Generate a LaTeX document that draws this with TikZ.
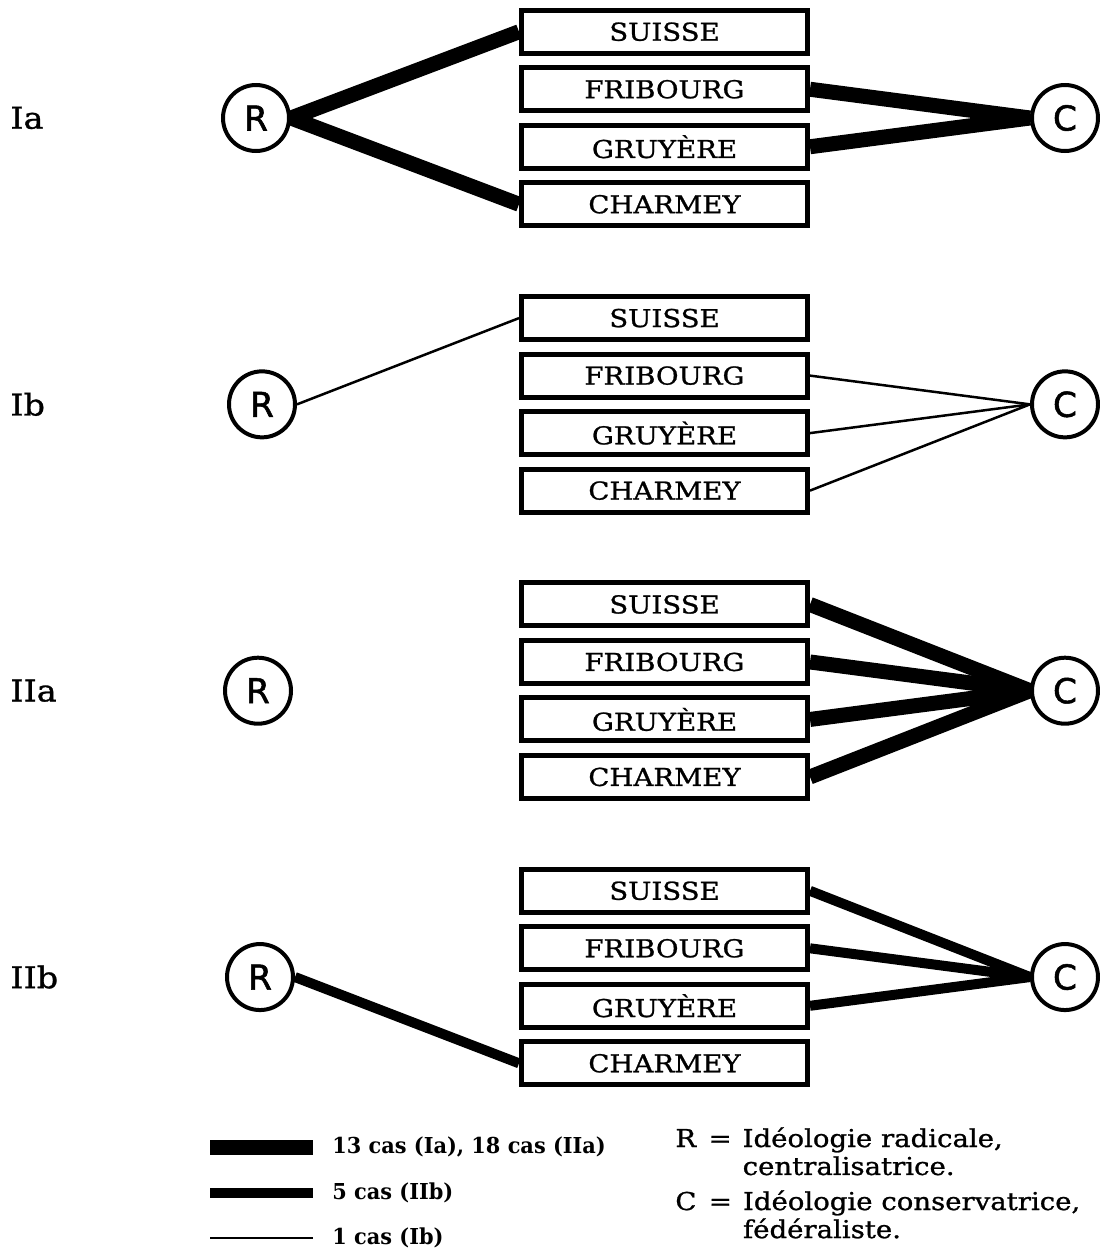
\documentclass[tikz,border=0pt]{standalone}
\usepackage{fontspec}
\newfontfamily\boxfont[FakeStretch=1.12, FakeBold=1]{DejaVu Serif}
\newfontfamily\keyfont[FakeStretch=0.95]{DejaVu Serif}
\newfontfamily\circfont[FakeBold=1.5]{DejaVu Sans}
\usetikzlibrary{positioning,backgrounds}

\begin{document}
\begin{tikzpicture}[
              node distance=1.15cm,
              region/.style={rectangle, draw, line width=0.1cm, fill=white, minimum width=5.72cm, minimum height=0.86cm, inner sep=0pt, font=\boxfont\fontsize{14}{16}\selectfont},
              ideo/.style={circle, draw, line width=0.08cm, fill=white, minimum size=1.32cm, inner sep=0pt, font=\circfont\fontsize{19.5}{20}\selectfont},
              panel/.style={anchor=west, inner sep=0pt, font=\boxfont\fontsize{17}{20}\selectfont},
              key/.style={anchor=west, inner sep=0pt, font=\keyfont\bfseries\fontsize{12.5}{15}\selectfont},
              defn/.style={anchor=base west, inner sep=0pt, font=\boxfont\fontsize{14}{15.9}\selectfont},
              heavyflow/.style={line width=0.3cm},
              midflow/.style={line width=0.2cm},
              fineflow/.style={line width=0.05cm}
            ]
              \path[use as bounding box] (0,0) rectangle (22,-25.08);

              % Panel Ia
              \node[panel] (La) at (0.2,-2.36) {Ia};
              \node[ideo] (Ra) at (5.12,-2.36) {R};
              \node[region] (Sa) at (13.29,-0.635) {SUISSE};
              \node[region, below of=Sa] (Fa) {FRIBOURG};
              \node[region, below of=Fa] (Ga) {GRUYÈRE};
              \node[region, below of=Ga] (Cha) {CHARMEY};
              \node[ideo] (Ca) at (21.3,-2.36) {C};

              % Panel Ib
              \node[panel] (Lb) at (0.2,-8.087) {Ib};
              \node[ideo] (Rb) at (5.24,-8.087) {R};
              \node[region] (Sb) at (13.29,-6.362) {SUISSE};
              \node[region, below of=Sb] (Fb) {FRIBOURG};
              \node[region, below of=Fb] (Gb) {GRUYÈRE};
              \node[region, below of=Gb] (Chb) {CHARMEY};
              \node[ideo] (Cb) at (21.3,-8.087) {C};

              % Panel IIa
              \node[panel] (LIIa) at (0.2,-13.814) {IIa};
              \node[ideo] (RIIa) at (5.16,-13.814) {R};
              \node[region] (SIIa) at (13.29,-12.089) {SUISSE};
              \node[region, below of=SIIa] (FIIa) {FRIBOURG};
              \node[region, below of=FIIa] (GIIa) {GRUYÈRE};
              \node[region, below of=GIIa] (ChIIa) {CHARMEY};
              \node[ideo] (CIIa) at (21.3,-13.814) {C};

              % Panel IIb
              \node[panel] (LIIb) at (0.2,-19.541) {IIb};
              \node[ideo] (RIIb) at (5.2,-19.541) {R};
              \node[region] (SIIb) at (13.29,-17.816) {SUISSE};
              \node[region, below of=SIIb] (FIIb) {FRIBOURG};
              \node[region, below of=FIIb] (GIIb) {GRUYÈRE};
              \node[region, below of=GIIb] (ChIIb) {CHARMEY};
              \node[ideo] (CIIb) at (21.3,-19.541) {C};

              % Draw links under the nodes
              \begin{scope}[on background layer]
                \fill[white] (0,0) rectangle (22,-25.08);
                \draw[heavyflow] (Ra.east) -- (Sa.west);
                \draw[heavyflow] (Ra.east) -- (Cha.west);
                \draw[heavyflow] (Fa.east) -- (Ca.west);
                \draw[heavyflow] (Ga.east) -- (Ca.west);

                \draw[fineflow] (Rb.east) -- (Sb.west);
                \draw[fineflow] (Fb.east) -- (Cb.west);
                \draw[fineflow] (Gb.east) -- (Cb.west);
                \draw[fineflow] (Chb.east) -- (Cb.west);

                \draw[heavyflow] (SIIa.east) -- (CIIa.west);
                \draw[heavyflow] (FIIa.east) -- (CIIa.west);
                \draw[heavyflow] (GIIa.east) -- (CIIa.west);
                \draw[heavyflow] (ChIIa.east) -- (CIIa.west);

                \draw[midflow] (RIIb.east) -- (ChIIb.west);
                \draw[midflow] (SIIb.east) -- (CIIb.west);
                \draw[midflow] (FIIb.east) -- (CIIb.west);
                \draw[midflow] (GIIb.east) -- (CIIb.west);
              \end{scope}

              % Legend of line widths
              \coordinate (K1a) at (4.2,-22.94);
              \coordinate (K1b) at (6.26,-22.94);
              \coordinate (K2a) at (4.2,-23.86);
              \coordinate (K2b) at (6.26,-23.86);
              \coordinate (K3a) at (4.2,-24.76);
              \coordinate (K3b) at (6.26,-24.76);
              \draw[heavyflow] (K1a) -- (K1b);
              \draw[midflow] (K2a) -- (K2b);
              \draw[fineflow] (K3a) -- (K3b);
              \node[key, right=0.38cm of K1b] (K1) {13 cas (Ia), 18 cas (IIa)};
              \node[key, right=0.38cm of K2b] (K2) {5 cas (IIb)};
              \node[key, right=0.38cm of K3b] (K3) {1 cas (Ib)};

              % Legend of the letters
              \node[defn] (DefR) at (13.5,-22.94) {\begin{tabular}[t]{@{}l@{\hspace{0.25cm}}l@{\hspace{0.22cm}}l@{}}R & = & Idéologie radicale,\\ & & centralisatrice.\end{tabular}};
              \node[defn] (DefC) at (13.5,-24.2) {\begin{tabular}[t]{@{}l@{\hspace{0.25cm}}l@{\hspace{0.22cm}}l@{}}C & = & Idéologie conservatrice,\\ & & fédéraliste.\end{tabular}};
            \end{tikzpicture}
\end{document}
